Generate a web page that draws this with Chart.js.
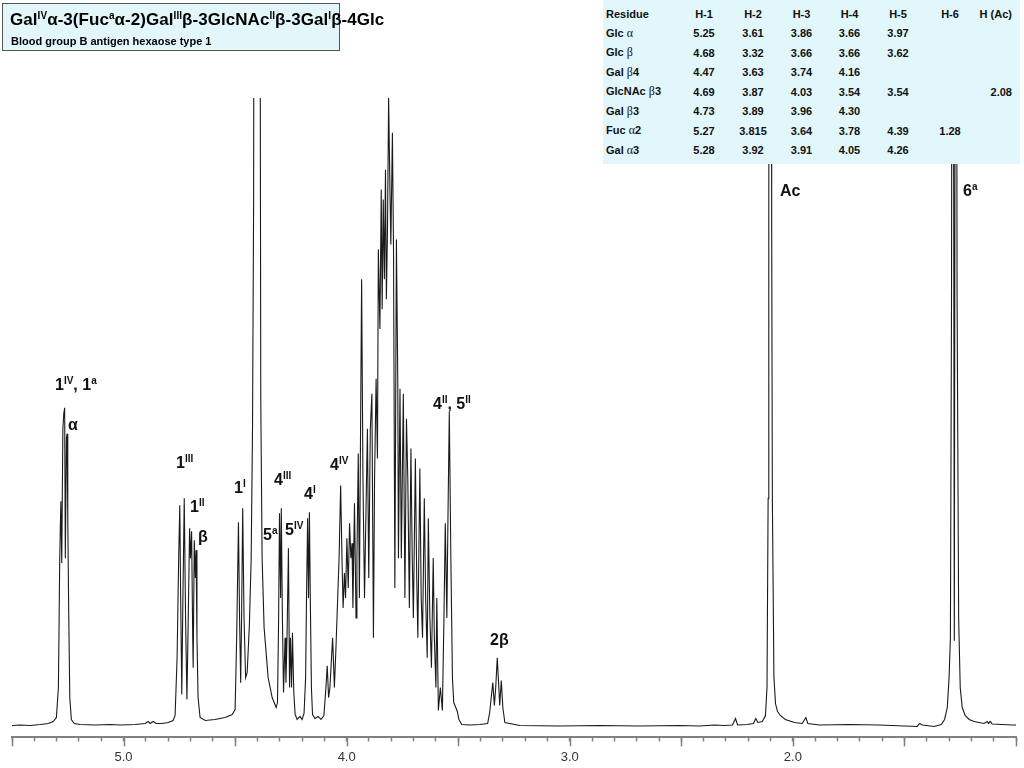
<!DOCTYPE html>
<html>
<head>
<meta charset="utf-8">
<script src="https://cdn.jsdelivr.net/npm/chart.js@4"></script>
<style>
body { margin: 0; background: #fff; font-family: "Liberation Sans", Arial, sans-serif; }
#wrap { position: relative; width: 1024px; height: 768px; overflow: hidden; }
#myChart { position: absolute; left: 0; top: 0; }
sup { font-size: 10px; line-height: 0; vertical-align: 6px; }
.lbl { position: absolute; font-weight: bold; font-size: 16px; color: #111; white-space: nowrap; line-height: 18px; }
#title { position: absolute; left: 2px; top: 3px; width: 336px; height: 46px; border: 1.5px solid #555; background: #e3f7fb; }
#title .t1 { position: absolute; left: 7px; top: 6px; font-size: 17px; font-weight: bold; white-space: nowrap; letter-spacing: 0.05px; }
#title .t2 { position: absolute; left: 8px; top: 31px; font-size: 11px; font-weight: bold; white-space: nowrap; }
#tbl { position: absolute; left: 603px; top: 0; width: 417px; height: 164px; background: #e1f7fb; }
#tbl table { position: absolute; left: 0; top: 4px; border-collapse: collapse; table-layout: fixed; font-size: 11px; font-weight: bold; color: #111; }
#tbl td { height: 19.5px; padding: 0; text-align: center; white-space: nowrap; }
#tbl td:first-child { text-align: left; padding-left: 3px; }
#tbl td:last-child { text-align: right; padding-right: 8px; }
.g { font-family: "Liberation Serif", serif; font-weight: normal; font-size: 12px; }
</style>
</head>
<body>
<div id="wrap">
  <canvas id="myChart" width="1024" height="768"></canvas>

  <div id="title">
    <div class="t1">Gal<sup>IV</sup>α-3(Fuc<sup>a</sup>α-2)Gal<sup>III</sup>β-3GlcNAc<sup>II</sup>β-3Gal<sup>I</sup>β-4Glc</div>
    <div class="t2">Blood group B antigen hexaose type 1</div>
  </div>

  <div id="tbl"><table>
    <colgroup><col style="width:77px"><col style="width:48px"><col style="width:50px"><col style="width:47px"><col style="width:49px"><col style="width:48px"><col style="width:56px"><col style="width:42px"></colgroup>
    <tbody id="tbody"></tbody>
  </table></div>

  <div class="lbl" style="left:55px;top:376px">1<sup>IV</sup>, 1<sup>a</sup></div>
  <div class="lbl" style="left:68px;top:416px">α</div>
  <div class="lbl" style="left:176px;top:454px">1<sup>III</sup></div>
  <div class="lbl" style="left:190px;top:498px">1<sup>II</sup></div>
  <div class="lbl" style="left:198px;top:528px">β</div>
  <div class="lbl" style="left:234px;top:479px">1<sup>I</sup></div>
  <div class="lbl" style="left:274px;top:471px">4<sup>III</sup></div>
  <div class="lbl" style="left:263px;top:526px">5<sup>a</sup></div>
  <div class="lbl" style="left:285px;top:521px">5<sup>IV</sup></div>
  <div class="lbl" style="left:304px;top:485px">4<sup>I</sup></div>
  <div class="lbl" style="left:330px;top:456px">4<sup>IV</sup></div>
  <div class="lbl" style="left:433px;top:395px">4<sup>II</sup>, 5<sup>II</sup></div>
  <div class="lbl" style="left:490px;top:631px">2β</div>
  <div class="lbl" style="left:780px;top:182px">Ac</div>
  <div class="lbl" style="left:963px;top:182px">6<sup>a</sup></div>
</div>

<script>
// spectrum: [chemical shift (ppm), intensity]
const regionAnomeric = [
  [5.500, 0], [5.462, 0.5], [5.418, 0], [5.373, 1], [5.337, 2], [5.315, 4], [5.301, 8],
  [5.292, 38], [5.286, 168], [5.281, 225], [5.277, 163], [5.272, 298], [5.268, 313], [5.264, 319],
  [5.261, 168], [5.256, 288], [5.253, 293], [5.250, 208], [5.246, 118], [5.241, 28], [5.234, 6], [5.221, 2],
  [5.194, 1], [5.127, 0.5], [5.060, 1], [5.015, 0.5], [4.948, 1], [4.903, 2], [4.890, 4], [4.881, 2],
  [4.867, 4], [4.854, 2], [4.827, 2], [4.800, 3], [4.778, 5], [4.769, 10],
  [4.760, 68], [4.753, 168], [4.748, 221], [4.744, 128], [4.739, 31], [4.734, 128], [4.728, 228],
  [4.722, 108], [4.716, 26], [4.710, 108], [4.704, 198], [4.700, 168], [4.695, 195], [4.690, 88],
  [4.688, 58], [4.683, 186], [4.678, 148], [4.675, 176], [4.671, 88], [4.666, 28], [4.657, 8],
  [4.634, 5], [4.590, 6], [4.545, 8], [4.513, 11], [4.500, 16]
];

const regionHdo = [
  [4.493, 88], [4.485, 204], [4.480, 108], [4.475, 43], [4.471, 108], [4.466, 218], [4.460, 108],
  [4.453, 48], [4.446, 53], [4.436, 101], [4.428, 168], [4.422, 298], [4.417, 528], [4.415, 900],
  [4.389, 900], [4.385, 328], [4.379, 168], [4.370, 98], [4.352, 48], [4.334, 28], [4.316, 18], [4.310, 23],
  [4.305, 108], [4.301, 213], [4.296, 128], [4.293, 218], [4.288, 108], [4.283, 33], [4.276, 88],
  [4.272, 43], [4.267, 93], [4.261, 178], [4.256, 38], [4.252, 88], [4.247, 38], [4.243, 93],
  [4.237, 33], [4.231, 11], [4.222, 6], [4.209, 9], [4.200, 6], [4.191, 12], [4.184, 48],
  [4.180, 128], [4.175, 208], [4.171, 128], [4.167, 214], [4.163, 128], [4.158, 38], [4.153, 11],
  [4.142, 7], [4.128, 9], [4.115, 6], [4.102, 10]
];

const regionRing = [
  [4.093, 38], [4.087, 60], [4.081, 28], [4.075, 38], [4.063, 88], [4.055, 38], [4.048, 78],
  [4.041, 123], [4.034, 168], [4.027, 241], [4.021, 168], [4.016, 118], [4.010, 153], [4.005, 128],
  [3.999, 188], [3.993, 138], [3.987, 203], [3.981, 168], [3.976, 183], [3.972, 118], [3.965, 223],
  [3.958, 108], [3.954, 168], [3.948, 273], [3.943, 128], [3.933, 448], [3.927, 248], [3.920, 128],
  [3.914, 208], [3.907, 298], [3.901, 148], [3.894, 298], [3.887, 333], [3.880, 88], [3.875, 248],
  [3.868, 348], [3.862, 268], [3.858, 478], [3.851, 398], [3.845, 538], [3.841, 418], [3.836, 528],
  [3.831, 448], [3.826, 558], [3.822, 428], [3.817, 498], [3.812, 630], [3.806, 538], [3.802, 483],
  [3.795, 595], [3.790, 478], [3.784, 138], [3.777, 488], [3.771, 348], [3.768, 168], [3.761, 338],
  [3.755, 168], [3.746, 333], [3.739, 128], [3.732, 308], [3.726, 248], [3.719, 118], [3.712, 278],
  [3.706, 168], [3.701, 108], [3.692, 268], [3.686, 148], [3.681, 88], [3.672, 258], [3.666, 128],
  [3.660, 88], [3.652, 228], [3.646, 128], [3.639, 68], [3.634, 208], [3.627, 108], [3.620, 58],
  [3.612, 168], [3.607, 88], [3.600, 38], [3.596, 128], [3.589, 15], [3.580, 38], [3.571, 15],
  [3.564, 108], [3.558, 203], [3.551, 108], [3.546, 208], [3.540, 315], [3.533, 168], [3.526, 48],
  [3.520, 23], [3.511, 18], [3.504, 14], [3.497, 6], [3.484, 1], [3.448, 0.5], [3.403, 1], [3.368, 2],
  [3.359, 13], [3.352, 28], [3.345, 43], [3.338, 20], [3.332, 38], [3.325, 68], [3.318, 38],
  [3.314, 20], [3.307, 45], [3.300, 18], [3.291, 3]
];

const regionMethyl = [
  [3.224, 0], [3.045, -0.5], [2.866, 0], [2.687, -0.5], [2.508, 0], [2.419, -0.5], [2.351, 0.5],
  [2.307, 0], [2.271, 0.5], [2.257, 7], [2.248, 0.5], [2.204, 1], [2.177, 2], [2.166, 7], [2.157, 3],
  [2.137, 4], [2.123, 10], [2.116, 38], [2.111, 228], [2.108, 500], [2.106, 1000], [2.098, 1000],
  [2.095, 500], [2.092, 228], [2.085, 48], [2.078, 22], [2.069, 14], [2.056, 10], [2.034, 6],
  [1.993, 3], [1.958, 2], [1.942, 8], [1.933, 2], [1.881, 0.5], [1.747, 1], [1.613, 0.5],
  [1.501, -0.5], [1.443, -1], [1.432, 2], [1.420, 0.5], [1.367, -1], [1.335, 1], [1.320, 6],
  [1.308, 18], [1.300, 48], [1.294, 88], [1.289, 428], [1.286, 1000], [1.282, 1000], [1.2765, 85],
  [1.271, 1000], [1.268, 1000], [1.264, 428], [1.257, 108], [1.250, 38], [1.241, 18], [1.228, 10],
  [1.210, 6], [1.188, 4], [1.143, 2], [1.129, 4], [1.123, 2], [1.116, 4], [1.107, 1.5], [1.062, 1],
  [1.017, 0.5], [1.000, 0.5]
];

// assignment table
const residues = ['Glc α', 'Glc β', 'Gal β4', 'GlcNAc β3', 'Gal β3', 'Fuc α2', 'Gal α3'];
const tableHeads = ['Residue', 'H-1', 'H-2', 'H-3', 'H-4', 'H-5', 'H-6', 'H (Ac)'];
const shiftH1 = ['5.25', '4.68', '4.47', '4.69', '4.73', '5.27', '5.28'];
const shiftH2 = ['3.61', '3.32', '3.63', '3.87', '3.89', '3.815', '3.92'];
const shiftH3 = ['3.86', '3.66', '3.74', '4.03', '3.96', '3.64', '3.91'];
const shiftH4 = ['3.66', '3.66', '4.16', '3.54', '4.30', '3.78', '4.05'];
const shiftH5 = ['3.97', '3.62', '', '3.54', '', '4.39', '4.26'];
const shiftH6 = ['', '', '', '', '', '1.28', ''];
const shiftAc = ['', '', '', '2.08', '', '', ''];

const xMin = 1.0;
const xMax = 5.5;

const tbody = document.getElementById('tbody');
let head = '<tr>' + tableHeads.map(h => '<td>' + h + '</td>').join('') + '</tr>';
let rows = residues.map((r, i) => {
  const name = r.replace(/([αβ])/, '<span class="g">$1</span>');
  return '<tr><td>' + name + '</td><td>' + shiftH1[i] + '</td><td>' + shiftH2[i] + '</td><td>' +
    shiftH3[i] + '</td><td>' + shiftH4[i] + '</td><td>' + shiftH5[i] + '</td><td>' + shiftH6[i] +
    '</td><td>' + shiftAc[i] + '</td></tr>';
}).join('');
tbody.innerHTML = head + rows;

const spectrum = [...regionAnomeric, ...regionHdo, ...regionRing, ...regionMethyl]
  .map(p => ({ x: p[0], y: p[1] }));

// longer tick every 0.5 ppm
const majorTicks = {
  id: 'majorTicks',
  afterDraw(chart) {
    const s = chart.scales.x;
    const c = chart.ctx;
    c.save();
    c.strokeStyle = '#808080';
    c.lineWidth = 1.5;
    s.ticks.forEach(t => {
      const r = t.value / 0.5;
      if (Math.abs(r - Math.round(r)) < 1e-6) {
        const px = Math.round(s.getPixelForValue(t.value)) + 0.5;
        c.beginPath();
        c.moveTo(px, s.top);
        c.lineTo(px, s.top + 9);
        c.stroke();
      }
    });
    c.restore();
  }
};

const ctx = document.getElementById('myChart');
const chart = new Chart(ctx, {
  type: 'line',
  data: {
    datasets: [{
      data: spectrum,
      borderColor: '#1a1a1a',
      borderWidth: 1.1,
      pointRadius: 0,
      tension: 0,
      fill: false
    }]
  },
  options: {
    responsive: false,
    animation: false,
    events: [],
    layout: { padding: { left: 12, right: 7, top: 98, bottom: -5 } },
    plugins: { legend: { display: false }, tooltip: { enabled: false } },
    scales: {
      x: {
        type: 'linear',
        reverse: true,
        min: xMin,
        max: xMax,
        border: { color: '#808080', width: 2 },
        grid: { drawOnChartArea: false, drawTicks: true, tickLength: 4, tickColor: '#808080', tickWidth: 1.5 },
        ticks: {
          stepSize: 0.1,
          autoSkip: false,
          includeBounds: false,
          maxRotation: 0,
          padding: 8,
          color: '#333',
          font: { family: '"Liberation Sans", Arial, sans-serif', size: 13 },
          callback: v => (Math.abs(v - Math.round(v)) < 1e-6 && v > xMin) ? v.toFixed(1) : ''
        }
      },
      y: { display: false, min: -12, max: 630 }
    }
  },
  plugins: [majorTicks]
});
</script>
</body>
</html>
